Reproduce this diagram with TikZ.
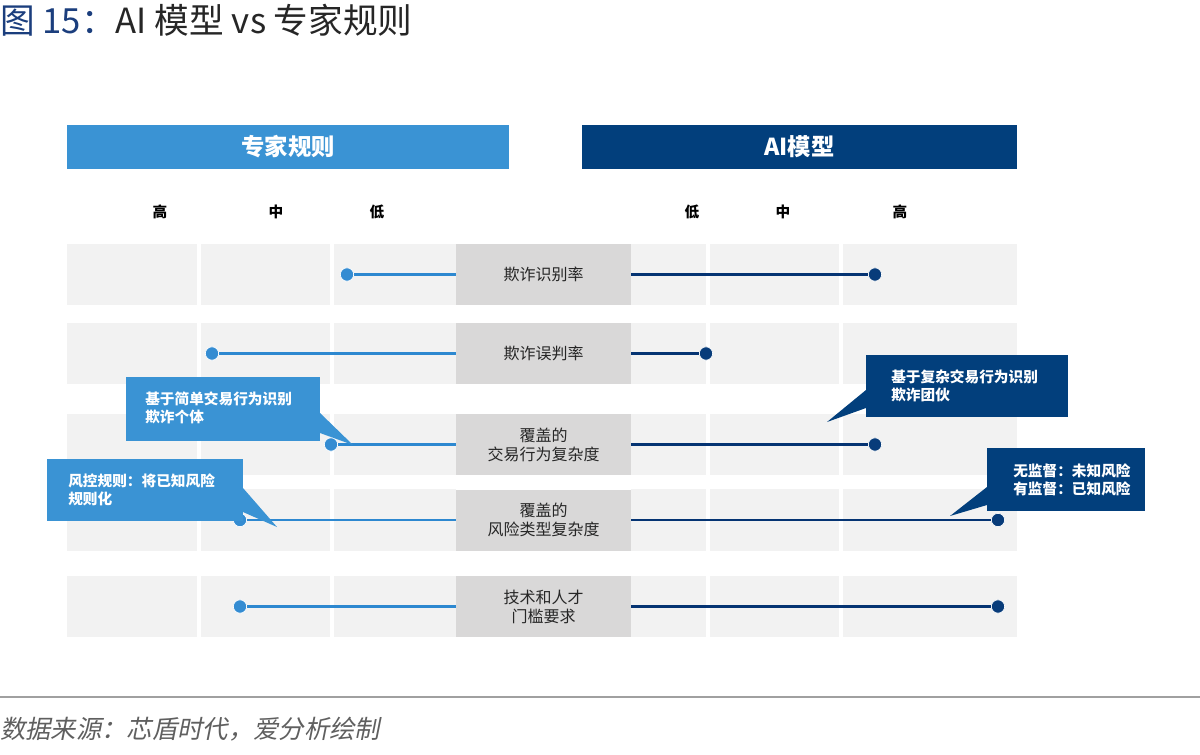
\documentclass[tikz,border=0pt]{standalone}
\usepackage{fontspec}
\setmainfont{Noto Sans CJK SC}
\newfontfamily\footfont[FakeSlant=0.2]{Noto Sans CJK SC}
\usetikzlibrary{calc}
\definecolor{hdrL}{RGB}{58,147,212}
\definecolor{hdrR}{RGB}{2,63,124}
\definecolor{cellgray}{RGB}{242,242,242}
\definecolor{labgray}{RGB}{217,216,216}
\definecolor{lineL}{RGB}{45,136,208}
\definecolor{lineR}{RGB}{5,52,115}
\definecolor{dotL}{RGB}{52,140,210}
\definecolor{dotR}{RGB}{8,60,122}
\definecolor{titleblue}{RGB}{27,62,125}
\definecolor{textdark}{RGB}{38,38,38}
\definecolor{footgray}{RGB}{95,95,95}
\definecolor{rulegray}{RGB}{160,160,160}
\begin{document}
\begin{tikzpicture}[x=0.75pt,y=-0.75pt,
  lab/.style={fill=labgray,minimum width=131.25pt,minimum height=45.75pt,inner sep=0,align=center,font=\fontsize{12}{14.25}\selectfont,text=textdark},
  dotl/.style={circle,fill=dotL,draw=white,line width=0.5pt,minimum size=10pt,inner sep=0},
  dotr/.style={circle,fill=dotR,draw=white,line width=0.5pt,minimum size=10pt,inner sep=0},
  linel/.style={draw=lineL,line width=2pt},
  liner/.style={draw=lineR,line width=2.2pt},
  colhead/.style={font=\fontsize{11}{13}\selectfont\bfseries,text=black,inner sep=0},
  hdr/.style={minimum height=33pt,inner sep=0,text=white,font=\fontsize{17.5}{20}\selectfont\bfseries},
  callL/.style={fill=hdrL,inner sep=0},
  callR/.style={fill=hdrR,inner sep=0},
  calltext/.style={text=white,font=\fontsize{11}{13.3}\selectfont\bfseries,align=left,anchor=west,inner sep=0},
]
\useasboundingbox (0,0) rectangle (1200,754);

% title
\node[anchor=west,inner sep=0,font=\fontsize{26}{30}\selectfont,text=textdark] (title) at (0,20) {\textcolor{titleblue}{图 15：}AI 模型 vs 专家规则};

% headers
\node[hdr,fill=hdrL,minimum width=331.5pt] (hL) at (288,147) {专家规则};
\node[hdr,fill=hdrR,minimum width=326.25pt] (hR) at (799.5,147) {AI模型};

% column labels
\node[colhead] (h1) at (160,212) {高};
\node[colhead] (h2) at (276,212) {中};
\node[colhead] (h3) at (377,212) {低};
\node[colhead] (h4) at (692,212) {低};
\node[colhead] (h5) at (783,212) {中};
\node[colhead] (h6) at (900,212) {高};

% cells
\foreach \t/\b in {244/305,323/384,414/475,489/551,576/637}{
  \foreach \l/\r in {67/197,201/330,334/456,631/706,710/839,843/1017}{
    \fill[cellgray] (\l,\t) rectangle (\r,\b);
  }
}

% row labels
\node[lab] (L1) at (543.5,274.5) {欺诈识别率};
\node[lab] (L2) at (543.5,353.5) {欺诈误判率};
\node[lab] (L3) at (543.5,444.5) {覆盖的\\交易行为复杂度};
\node[lab] (L4) at (543.5,520) {覆盖的\\风险类型复杂度};
\node[lab] (L5) at (543.5,606.5) {技术和人才\\门槛要求};

% dots
\node[dotl] (dl1) at (347,274.5) {};
\node[dotl] (dl2) at (212,353.5) {};
\node[dotl] (dl3) at (331,444.5) {};
\node[dotl] (dl4) at (240,520) {};
\node[dotl] (dl5) at (240,606.5) {};
\node[dotr] (dr1) at (875,274.5) {};
\node[dotr] (dr2) at (706,353.5) {};
\node[dotr] (dr3) at (875,444.5) {};
\node[dotr] (dr4) at (998,520) {};
\node[dotr] (dr5) at (998,606.5) {};

% connectors
\foreach \i in {1,...,5}{
  \draw[linel] (L\i.west) -- (dl\i);
  \draw[liner] (L\i.east) -- (dr\i);
}
% redraw dots on top
\node[dotl] at (dl1) {};
\node[dotl] at (dl2) {};
\node[dotl] at (dl3) {};
\node[dotl] at (dl4) {};
\node[dotl] at (dl5) {};
\node[dotr] at (dr1) {};
\node[dotr] at (dr2) {};
\node[dotr] at (dr3) {};
\node[dotr] at (dr4) {};
\node[dotr] at (dr5) {};

% callouts
\coordinate (tipA) at (353,445);
\node[callL,minimum width=145.5pt,minimum height=48pt] (cA) at (223,409) {};
\fill[hdrL] (320,413) -- (tipA) -- (320,433) -- cycle;
\node[calltext] (tA) at (145,408) {基于简单交易行为识别\\欺诈个体};

\coordinate (tipB) at (277,527);
\node[callL,minimum width=147pt,minimum height=46.5pt] (cB) at (145,490) {};
\fill[hdrL] (243,488) -- (tipB) -- (243,512) -- cycle;
\node[calltext] (tB) at (68,490) {风控规则：将已知风险\\规则化};

\coordinate (tipC) at (827,422);
\node[callR,minimum width=151.5pt,minimum height=46.5pt] (cC) at (967,386) {};
\fill[hdrR] (866,390) -- (tipC) -- (866,408) -- cycle;
\node[calltext] (tC) at (891,386) {基于复杂交易行为识别\\欺诈团伙};

\coordinate (tipD) at (950,516);
\node[callR,minimum width=118.5pt,minimum height=47.25pt] (cD) at (1066,479.5) {};
\fill[hdrR] (987,487) -- (tipD) -- (987,505) -- cycle;
\node[calltext] (tD) at (1013,480) {无监督：未知风险\\有监督：已知风险};

% footer
\draw[rulegray,line width=1.2pt] (0,697) -- (1200,697);
\node[anchor=west,inner sep=0,font=\footfont\fontsize{19}{22}\selectfont,text=footgray] (src) at (0,729) {数据来源：芯盾时代，爱分析绘制};
\end{tikzpicture}
\end{document}
